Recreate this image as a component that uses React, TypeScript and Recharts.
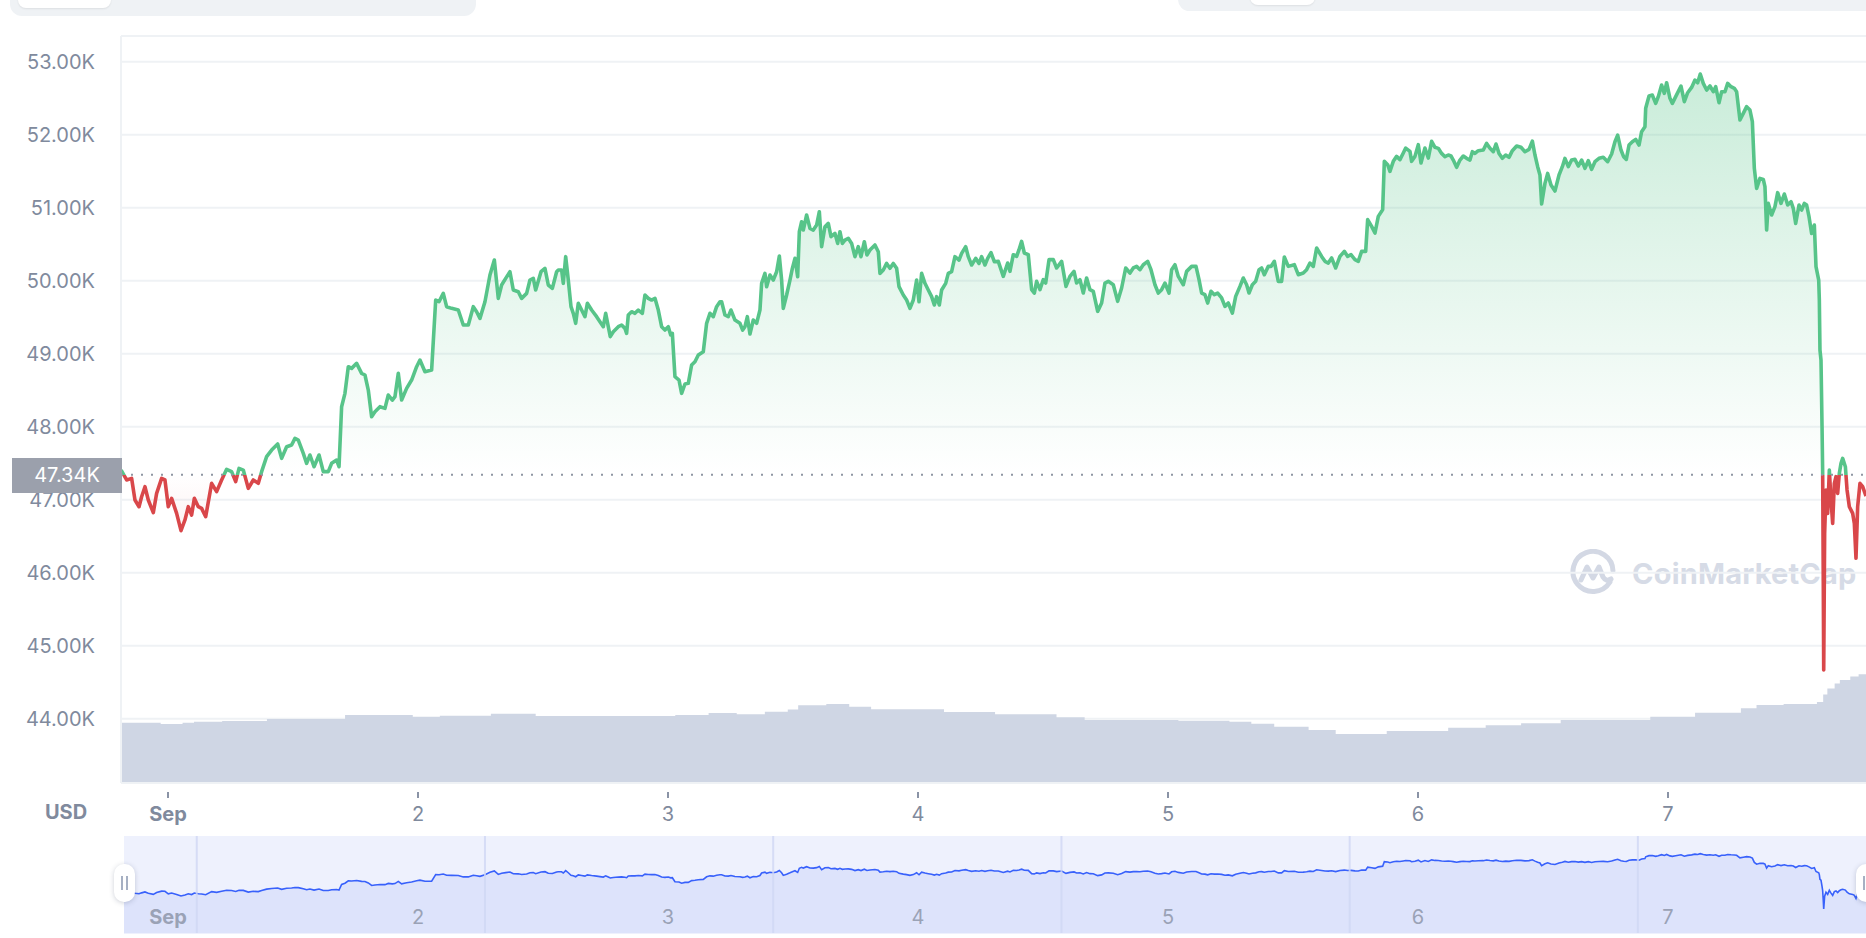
import React from 'react';
import { ComposedChart, AreaChart, Area, XAxis, YAxis, CartesianGrid, ReferenceLine } from 'recharts';

// ---------- data ----------
// time axis: hours since Sep 1 00:00
const RANGE_START = -4.51;
const RANGE_END = 163.01;
const REF_PRICE = 47340;

const dayTicks = [0, 24, 48, 72, 96, 120, 144];
const dayLabels = ['Sep', '2', '3', '4', '5', '6', '7'];
const priceTicks = [44000, 45000, 46000, 47000, 48000, 49000, 50000, 51000, 52000, 53000];
const priceDomain = [43119, 53352];
const volumeDomain = [0, 300];
const brushPriceDomain = [41120, 55430];
const brushGridHours = [2.76, 30.43, 58.1, 85.77, 113.44, 141.11];

// [hour, price USD]
const priceAug31Sep2: [number, number][] = [
  [-4.5, 47406], [-3.97, 47270], [-3.49, 47292], [-3.17, 46996], [-2.78, 46904], [-2.53, 47041], [-2.21, 47178],
  [-1.89, 46996], [-1.41, 46822], [-1.09, 47087], [-0.61, 47292], [-0.29, 47270], [0.03, 46904], [0.35, 47018],
  [0.83, 46813], [1.25, 46576], [1.63, 46722], [1.95, 46904], [2.27, 46790], [2.53, 47018], [2.91, 46904],
  [3.23, 46881], [3.62, 46767], [4.19, 47224], [4.67, 47110], [5.15, 47270], [5.63, 47416], [6.11, 47384],
  [6.5, 47247], [6.82, 47429], [7.23, 47406], [7.71, 47155], [8.19, 47270], [8.67, 47224], [8.99, 47384],
  [9.47, 47589], [9.95, 47680], [10.53, 47763], [10.91, 47566], [11.39, 47726], [11.87, 47749], [12.19, 47840],
  [12.51, 47817], [12.99, 47635], [13.31, 47498], [13.63, 47612], [14.02, 47452], [14.5, 47612], [14.91, 47384],
  [15.39, 47384], [15.71, 47498], [16.19, 47543], [16.42, 47452], [16.67, 48274], [16.99, 48457], [17.31, 48822],
  [17.63, 48799], [18.11, 48868], [18.59, 48731], [18.91, 48708], [19.23, 48502], [19.55, 48137], [19.87, 48206],
  [20.35, 48274], [20.83, 48251], [21.15, 48434], [21.54, 48365], [21.79, 48411], [22.11, 48731], [22.43, 48365],
  [22.91, 48525], [23.39, 48639], [23.87, 48822], [24.19, 48913], [24.67, 48753], [25.31, 48776], [25.7, 49735],
  [26.02, 49712], [26.43, 49826], [26.75, 49644], [27.23, 49621], [27.87, 49598], [28.35, 49393], [28.83, 49393],
  [29.31, 49644], [29.63, 49575], [29.95, 49484], [30.43, 49712], [30.91, 50078], [31.33, 50283], [31.71, 49758],
  [32.03, 49941], [32.42, 50032], [32.83, 50123], [33.15, 49872], [33.63, 49849], [33.95, 49758], [34.43, 49826],
  [34.75, 50009], [35.07, 50032], [35.3, 49872], [35.81, 50123], [36.19, 50169], [36.51, 49941], [36.9, 49895],
  [37.31, 50123],
];

const priceSep2Sep4: [number, number][] = [
  [37.47, 50146], [37.79, 50146], [37.95, 49964], [38.18, 50329], [38.43, 50009], [38.69, 49644], [38.91, 49553],
  [39.14, 49416], [39.39, 49690], [39.71, 49598], [40.03, 49507], [40.26, 49690], [40.67, 49598], [41.15, 49507],
  [41.47, 49438], [41.79, 49370], [42.02, 49553], [42.27, 49370], [42.46, 49233], [42.75, 49301], [43.23, 49370],
  [43.55, 49393], [43.87, 49347], [44.03, 49279], [44.19, 49530], [44.51, 49575], [44.83, 49553], [45.15, 49598],
  [45.54, 49553], [45.79, 49804], [46.11, 49758], [46.43, 49735], [46.75, 49758], [47.07, 49598], [47.39, 49370],
  [47.71, 49324], [48.03, 49370], [48.26, 49256], [48.42, 49279], [48.67, 48685], [49.06, 48639], [49.31, 48457],
  [49.63, 48585], [49.95, 48594], [50.27, 48845], [50.59, 48890], [50.91, 48982], [51.39, 49027], [51.71, 49416],
  [52.03, 49553], [52.35, 49507], [52.67, 49644], [52.99, 49712], [53.15, 49712], [53.47, 49530], [53.79, 49507],
  [54.05, 49598], [54.43, 49461], [54.91, 49416], [55.17, 49324], [55.39, 49370], [55.62, 49507], [55.87, 49269],
  [56.19, 49461], [56.51, 49416], [56.83, 49598], [56.99, 49964], [57.31, 50100], [57.47, 49918], [57.79, 50078],
  [58.11, 50009], [58.43, 50123], [58.69, 50338], [58.91, 50009], [59.07, 49621], [59.39, 49804], [59.71, 50009],
  [59.94, 50169], [60.19, 50306], [60.45, 50055], [60.61, 50671], [60.83, 50808], [60.99, 50694], [61.31, 50900],
  [61.63, 50717], [61.95, 50694], [62.27, 50763], [62.53, 50945], [62.75, 50466], [63.07, 50740], [63.39, 50785],
  [63.65, 50603], [64.03, 50648], [64.29, 50511], [64.51, 50671], [64.74, 50511], [64.99, 50557], [65.31, 50580],
  [65.63, 50511], [65.95, 50329], [66.27, 50466], [66.53, 50329], [66.85, 50534], [67.1, 50352], [67.39, 50420],
  [67.87, 50489], [68.19, 50397], [68.35, 50100], [68.67, 50146], [68.99, 50237], [69.31, 50169], [69.63, 50237],
  [69.95, 50169], [70.18, 49918], [70.59, 49804], [70.91, 49735], [71.23, 49621], [71.55, 49735], [71.87, 50009],
  [72.1, 49712], [72.35, 50100], [72.67, 49964], [72.99, 49872], [73.31, 49781], [73.57, 49667], [73.79, 49781],
  [74.05, 49667], [74.27, 49872], [74.66, 49964], [74.91, 50100], [75.23, 50123], [75.55, 50329], [75.94, 50283],
  [76.19, 50374], [76.58, 50466], [76.83, 50329], [77.15, 50215], [77.54, 50306], [77.86, 50237], [78.11, 50329],
  [78.43, 50215], [78.69, 50306], [79.01, 50384], [79.33, 50260],
];

const priceSep4Sep6: [number, number][] = [
  [79.71, 50265], [79.87, 50196], [80.19, 50059], [80.61, 50242], [80.83, 50128], [81.15, 50356], [81.47, 50333],
  [81.7, 50425], [81.95, 50539], [82.21, 50379], [82.59, 50356], [82.91, 49877], [83.17, 49831], [83.39, 49991],
  [83.71, 49877], [84.03, 50014], [84.26, 49968], [84.58, 50288], [84.99, 50288], [85.31, 50174], [85.79, 50265],
  [86.21, 49922], [86.59, 50059], [86.98, 50128], [87.23, 49968], [87.55, 50014], [87.87, 49831], [88.19, 50037],
  [88.51, 49877], [88.83, 49854], [89.25, 49580], [89.63, 49694], [89.95, 49968], [90.27, 49991], [90.75, 49945],
  [91.17, 49717], [91.55, 49900], [91.94, 50174], [92.35, 50105], [92.67, 50174], [92.99, 50196], [93.31, 50151],
  [93.63, 50219], [94.05, 50265], [94.37, 50151], [94.75, 49945], [95.07, 49831], [95.39, 49877], [95.71, 49968],
  [96.1, 49831], [96.35, 50151], [96.67, 50219], [96.99, 50059], [97.47, 49945], [97.79, 50128], [98.27, 50196],
  [98.69, 50196], [98.98, 50014], [99.23, 49831], [99.55, 49808], [99.81, 49694], [100.13, 49854], [100.45, 49808],
  [100.77, 49831], [101.15, 49763], [101.47, 49648], [101.79, 49694], [102.18, 49557], [102.5, 49785], [102.91, 49922],
  [103.23, 50037], [103.55, 49945], [103.78, 49831], [104.1, 49945], [104.42, 49991], [104.74, 50151], [104.99, 50174],
  [105.25, 50082], [105.63, 50196], [105.89, 50196], [106.21, 50265], [106.59, 49991], [106.91, 49991], [107.17, 50324],
  [107.55, 50196], [108.13, 50219], [108.51, 50082], [108.99, 50105], [109.31, 50151], [109.63, 50242], [109.95, 50196],
  [110.27, 50448], [110.75, 50333], [111.07, 50265], [111.39, 50242], [111.71, 50311], [112.1, 50174], [112.51, 50333],
  [112.93, 50402], [113.25, 50333], [113.57, 50356], [113.95, 50288], [114.27, 50265], [114.59, 50402], [114.98, 50402],
  [115.17, 50836], [115.55, 50744], [115.87, 50653], [116.19, 50881], [116.51, 50950], [116.61, 50973], [116.77, 51635],
  [117.09, 51589], [117.31, 51498], [117.63, 51635], [117.95, 51703], [118.27, 51658], [118.59, 51749], [118.82, 51817],
  [119.23, 51772], [119.39, 51635], [119.71, 51703], [120.03, 51863], [120.29, 51612], [120.67, 51817], [120.99, 51680],
  [121.31, 51909],
];

const priceSep6Sep7: [number, number][] = [
  [121.63, 51827], [121.95, 51813], [122.27, 51744], [122.59, 51699], [122.91, 51722], [123.17, 51708], [123.39, 51653],
  [123.71, 51553], [124.03, 51653], [124.35, 51708], [124.67, 51676], [124.99, 51653], [125.22, 51767], [125.47, 51744],
  [125.79, 51781], [126.27, 51790], [126.59, 51881], [126.91, 51813], [127.23, 51767], [127.49, 51872], [127.78, 51744],
  [128.1, 51676], [128.42, 51722], [128.74, 51690], [129.06, 51781], [129.47, 51845], [129.89, 51827], [130.27, 51767],
  [130.66, 51799], [130.98, 51913], [131.23, 51722], [131.49, 51562], [131.71, 51448], [131.87, 51050], [132.19, 51333],
  [132.45, 51470], [132.77, 51311], [133.15, 51228], [133.54, 51448], [133.86, 51562], [134.11, 51676], [134.43, 51562],
  [134.75, 51653], [135.07, 51662], [135.39, 51571], [135.71, 51653], [136.03, 51539], [136.35, 51644], [136.67, 51525],
  [136.99, 51630], [137.38, 51676], [137.79, 51690], [138.21, 51630], [138.59, 51735], [138.91, 51904], [139.17, 51995],
  [139.49, 51790], [139.74, 51699], [140.0, 51662], [140.26, 51858], [140.58, 51904], [140.9, 51936], [141.22, 51858],
  [141.47, 52041], [141.79, 52110], [141.86, 52361], [142.18, 52530], [142.5, 52543], [142.82, 52429], [143.07, 52521],
  [143.39, 52680], [143.65, 52566], [143.87, 52712], [144.19, 52498], [144.42, 52429], [144.74, 52521], [145.25, 52667],
  [145.57, 52452], [145.89, 52575], [146.27, 52648], [146.59, 52749], [146.85, 52712], [147.1, 52831], [147.39, 52703],
  [147.71, 52612], [148.03, 52667], [148.35, 52589], [148.58, 52658], [148.9, 52438], [149.15, 52589], [149.47, 52589],
  [149.73, 52703], [150.05, 52658], [150.37, 52635], [150.59, 52589], [150.91, 52201], [151.23, 52292], [151.55, 52384],
  [151.87, 52338], [152.1, 52178], [152.29, 51539], [152.51, 51265], [152.83, 51402], [153.15, 51388], [153.31, 51288],
  [153.47, 50694], [153.63, 51059], [153.95, 50900], [154.27, 51014], [154.53, 51206], [154.85, 51059], [155.17, 51187],
  [155.49, 51037], [155.81, 51082], [156.03, 50991], [156.26, 50785], [156.58, 51037], [156.83, 50968], [157.09, 51059],
  [157.31, 51037], [157.54, 50877], [157.79, 50648], [158.05, 50763],
];

const priceSep7Crash: [number, number][] = [
  [158.21, 50192], [158.47, 50009], [158.53, 49735], [158.59, 49050], [158.69, 48913], [158.79, 48000], [158.85, 47361],
  [158.91, 45854], [158.95, 44667], [159.04, 46539], [159.17, 47133], [159.33, 46813], [159.49, 47407], [159.65, 46996],
  [159.81, 46676], [159.97, 47224], [160.13, 47315], [160.29, 47087], [160.45, 47361], [160.61, 47498], [160.77, 47566],
  [161.03, 47452], [161.19, 47133], [161.41, 46904], [161.73, 46813], [161.89, 46676], [162.05, 46197], [162.21, 46904],
  [162.43, 47224], [162.69, 47178], [163.01, 47050],
];

// [hour, 24h volume, billion USD]
const volumeSeries: [number, number][] = [
  [-4.51, 24.2], [-0.7, 23.7], [1.4, 24.2], [2.5, 24.6], [5.2, 24.9], [9.5, 25.7], [17.0, 27.3], [23.5, 26.6],
  [26.1, 27.0], [31.0, 27.8], [35.3, 26.9], [48.7, 27.3], [51.9, 28.1], [54.6, 27.6], [57.3, 28.6], [59.5, 29.5],
  [60.5, 31.2], [63.2, 31.7], [65.4, 30.6], [67.5, 29.6], [74.5, 28.5], [79.4, 27.6], [85.3, 26.4], [88.0, 25.3],
  [97.0, 25.0], [101.9, 24.6], [104.0, 23.8], [106.2, 22.6], [109.5, 21.3], [112.1, 19.7], [117.0, 20.9],
  [122.9, 22.2], [126.5, 23.2], [129.9, 24.0], [133.7, 25.3], [142.3, 26.6], [146.6, 28.2], [151.0, 30.0],
  [152.5, 31.3], [155.1, 31.7], [158.3, 32.5], [158.9, 35.5], [159.3, 38.0], [160.0, 40.0], [160.5, 41.4],
  [161.5, 42.8], [162.3, 43.7], [163.01, 44.3],
];

// ---------- derived ----------
const priceData = [...priceAug31Sep2, ...priceSep2Sep4, ...priceSep4Sep6, ...priceSep6Sep7, ...priceSep7Crash].map(
  ([t, price]) => ({ t, price })
);
const volumeData = volumeSeries.map(([t, v]) => ({ t, v }));
const maxPrice = Math.max(...priceData.map((d) => d.price));
const minPrice = Math.min(...priceData.map((d) => d.price));
const splitOffset = (maxPrice - REF_PRICE) / (maxPrice - minPrice);

const GREEN = '#57c489';
const RED = '#d9474a';
const FONT = 'Inter, "Noto Sans", Roboto, sans-serif';
const AXIS_TEXT = '#808a9d';
const GRID = '#eff2f5';

const fmtK = (v: number) => (v / 1000).toFixed(2) + 'K';

const DayTick = (props: any) => {
  const { x, y, payload } = props;
  const i = dayTicks.indexOf(payload.value);
  const label = dayLabels[i];
  return (
    <g>
      <line x1={x} x2={x} y1={y + 3} y2={y + 9} stroke="#8a93a6" strokeWidth={2} />
      <text
        x={x}
        y={y + 25}
        textAnchor="middle"
        dominantBaseline="central"
        fill={AXIS_TEXT}
        fontSize={20}
        fontWeight={i === 0 ? 700 : 400}
        fontFamily={FONT}
      >
        {label}
      </text>
    </g>
  );
};

const BrushTick = (props: any) => {
  const { x, y, payload } = props;
  const i = dayTicks.indexOf(payload.value);
  return (
    <text
      x={x}
      y={y - 22}
      textAnchor="middle"
      dominantBaseline="central"
      fill="#9aa2b6"
      fontSize={20}
      fontWeight={i === 0 ? 700 : 400}
      fontFamily={FONT}
    >
      {dayLabels[i]}
    </text>
  );
};

const Handle = ({ left }: { left: number }) => (
  <div
    style={{
      position: 'absolute',
      left,
      top: 864,
      width: 21,
      height: 38,
      background: '#ffffff',
      borderRadius: 10,
      boxShadow: '0 1px 5px rgba(60,70,100,0.25)',
    }}
  >
    <div style={{ position: 'absolute', left: 7, top: 12, width: 1.5, height: 14, background: '#a6b0c3' }} />
    <div style={{ position: 'absolute', left: 12, top: 12, width: 1.5, height: 14, background: '#a6b0c3' }} />
  </div>
);

export default function App() {
  return (
    <div
      style={{
        position: 'absolute',
        left: 0,
        top: 0,
        width: 1866,
        height: 938,
        overflow: 'hidden',
        background: '#ffffff',
        fontFamily: FONT,
      }}
    >
      {/* top controls (cut off) */}
      <div style={{ position: 'absolute', left: 10, top: -12, width: 466, height: 28, borderRadius: 12, background: '#eff2f5' }} />
      <div
        style={{
          position: 'absolute',
          left: 18,
          top: -12,
          width: 93,
          height: 20,
          borderRadius: 8,
          background: '#ffffff',
          boxShadow: '0 1px 2px rgba(0,0,0,0.08)',
        }}
      />
      <div style={{ position: 'absolute', left: 1178, top: -12, width: 720, height: 23, borderRadius: 12, background: '#eff2f5' }} />
      <div
        style={{
          position: 'absolute',
          left: 1250,
          top: -12,
          width: 65,
          height: 17,
          borderRadius: 8,
          background: '#ffffff',
          boxShadow: '0 1px 2px rgba(0,0,0,0.08)',
        }}
      />

      {/* watermark */}
      <div style={{ position: 'absolute', left: 1570, top: 549, height: 48, display: 'flex', alignItems: 'center' }}>
        <svg width={48} height={48} viewBox="0 0 48 48">
          <path d="M40 33 A20 20 0 1 1 43 22" fill="none" stroke="#d3d8e4" strokeWidth={5} strokeLinecap="round" />
          <path
            d="M11 31 L17 18 L23 29 L29 18 L33 28 Q36 33 41 30"
            fill="none"
            stroke="#d3d8e4"
            strokeWidth={5}
            strokeLinecap="round"
            strokeLinejoin="round"
          />
        </svg>
        <span style={{ marginLeft: 14, fontSize: 29, fontWeight: 700, color: '#d6dbe6', letterSpacing: 0.2 }}>CoinMarketCap</span>
      </div>

      {/* main chart */}
      <div style={{ position: 'absolute', left: 0, top: 0 }}>
        <ComposedChart width={1866} height={840} margin={{ top: 36, right: 0, bottom: 0, left: 0 }}>
          <defs>
            <linearGradient id="priceStroke" x1="0" y1="0" x2="0" y2="1">
              <stop offset={splitOffset} stopColor={GREEN} />
              <stop offset={splitOffset} stopColor={RED} />
            </linearGradient>
            <linearGradient id="priceFill" x1="0" y1="0" x2="0" y2="1">
              <stop offset={0} stopColor={GREEN} stopOpacity={0.32} />
              <stop offset={splitOffset} stopColor={GREEN} stopOpacity={0} />
              <stop offset={splitOffset} stopColor={RED} stopOpacity={0} />
              <stop offset={1} stopColor={RED} stopOpacity={0.25} />
            </linearGradient>
          </defs>
          <XAxis
            dataKey="t"
            type="number"
            domain={[RANGE_START, RANGE_END]}
            ticks={dayTicks}
            allowDataOverflow
            height={57}
            tickLine={false}
            tickMargin={0}
            axisLine={{ stroke: GRID, strokeWidth: 2 }}
            tick={<DayTick />}
            interval={0}
          />
          <YAxis
            yAxisId="price"
            domain={priceDomain}
            ticks={priceTicks}
            allowDataOverflow
            width={121}
            tickLine={false}
            tickMargin={20}
            axisLine={{ stroke: GRID, strokeWidth: 2 }}
            tickFormatter={fmtK}
            tick={{ fill: AXIS_TEXT, fontSize: 20, fontFamily: FONT }}
            interval={0}
          />
          <YAxis yAxisId="vol" hide domain={volumeDomain} allowDataOverflow />
          <Area
            yAxisId="vol"
            data={volumeData}
            dataKey="v"
            type="stepAfter"
            stroke="none"
            fill="#cfd6e4"
            fillOpacity={1}
            isAnimationActive={false}
            dot={false}
            activeDot={false}
          />
          <CartesianGrid yAxisId="price" vertical={false} stroke={GRID} strokeWidth={2} />
          <ReferenceLine yAxisId="price" y={REF_PRICE} stroke="#8f96a3" strokeDasharray="2 8" strokeWidth={2} />
          <Area
            yAxisId="price"
            data={priceData}
            dataKey="price"
            type="linear"
            baseValue={REF_PRICE}
            stroke="url(#priceStroke)"
            strokeWidth={3.6}
            strokeLinejoin="round"
            fill="url(#priceFill)"
            fillOpacity={1}
            isAnimationActive={false}
            dot={false}
            activeDot={false}
          />
        </ComposedChart>
      </div>

      {/* current price tag */}
      <div
        style={{
          position: 'absolute',
          left: 12,
          top: 458,
          width: 110,
          height: 35,
          background: '#9ba0ac',
          color: '#ffffff',
          fontSize: 20,
          lineHeight: '35px',
          textAlign: 'center',
        }}
      >
        {fmtK(REF_PRICE)}
      </div>

      {/* currency label */}
      <div
        style={{
          position: 'absolute',
          left: 30,
          top: 800,
          width: 72,
          height: 24,
          lineHeight: '24px',
          textAlign: 'center',
          fontSize: 20,
          fontWeight: 700,
          color: AXIS_TEXT,
        }}
      >
        USD
      </div>

      {/* navigator */}
      <div style={{ position: 'absolute', left: 124, top: 836, width: 1742, height: 98, overflow: 'hidden', background: '#eef1fd' }}>
        <div style={{ position: 'absolute', left: -3, top: 0 }}>
          <AreaChart width={1745} height={98} margin={{ top: 0, right: 0, bottom: 0, left: 0 }} data={priceData}>
            <XAxis
              dataKey="t"
              type="number"
              domain={[RANGE_START, RANGE_END]}
              ticks={dayTicks}
              allowDataOverflow
              height={1}
              axisLine={false}
              tickLine={false}
              tickMargin={0}
              tick={<BrushTick />}
              interval={0}
            />
            <YAxis hide domain={brushPriceDomain} allowDataOverflow />
            <Area
              dataKey="price"
              type="linear"
              stroke="#3861fb"
              strokeWidth={1.6}
              fill="#dde3fb"
              fillOpacity={1}
              isAnimationActive={false}
              dot={false}
              activeDot={false}
            />
            {brushGridHours.map((h) => (
              <ReferenceLine key={h} x={h} stroke="#cfd7f4" strokeOpacity={0.8} strokeWidth={2} />
            ))}
          </AreaChart>
        </div>
      </div>
      <Handle left={114} />
      <Handle left={1856} />
    </div>
  );
}
